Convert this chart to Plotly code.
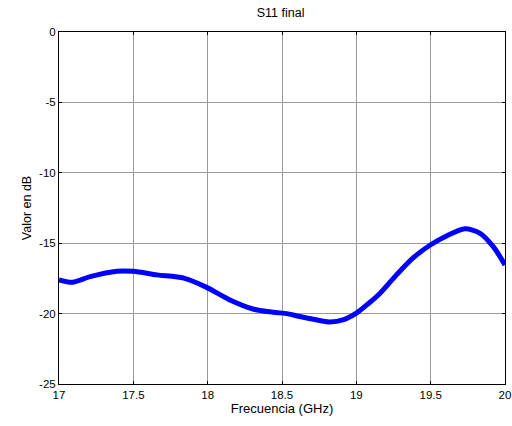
import plotly.graph_objects as go

freq = [17.0, 17.09, 17.21, 17.39, 17.5, 17.66, 17.84, 17.99, 18.15, 18.31, 18.44, 18.54,
        18.62, 18.72, 18.82, 18.91, 19.0, 19.08, 19.16, 19.27, 19.38, 19.5, 19.61, 19.73,
        19.83, 19.92, 20.0]
s11 = [-17.6, -17.77, -17.37, -16.99, -17.0, -17.25, -17.48, -18.12, -19.03, -19.69, -19.9, -20.02,
       -20.21, -20.42, -20.59, -20.45, -19.97, -19.3, -18.55, -17.25, -16.06, -15.11, -14.47, -13.98,
       -14.28, -15.23, -16.54]

x_ticks = [17, 17.5, 18, 18.5, 19, 19.5, 20]
x_ticklabels = ["17", "17.5", "18", "18.5", "19", "19.5", "20"]
y_ticks = [0, -5, -10, -15, -20, -25]
y_ticklabels = ["0", "-5", "-10", "-15", "-20", "-25"]

FAM = "Liberation Sans, Arial, sans-serif"

fig = go.Figure()
fig.add_trace(go.Scatter(x=freq, y=s11, mode="lines",
                         line=dict(color="#0000ff", width=5, shape="spline", smoothing=0.8),
                         showlegend=False, cliponaxis=True))

font = dict(family=FAM, size=11.5, color="#000000")
axis_common = dict(showline=True, linecolor="#000000", linewidth=1, mirror="ticks",
                   ticks="inside", ticklen=3, tickcolor="#000000",
                   showgrid=True, gridcolor="#9a9a9a", gridwidth=1, zeroline=False,
                   tickfont=font, automargin=False)

fig.update_layout(
    width=512, height=426,
    margin=dict(l=59, r=7, t=32, b=42),
    font=dict(family=FAM, color="#000000"),
    paper_bgcolor="#ffffff", plot_bgcolor="#ffffff",
    title=dict(text="S11 final", x=0.548, xanchor="center", y=0.97, yanchor="middle",
               font=dict(family=FAM, size=12.5, color="#000000")),
    xaxis=dict(range=[17, 20], tickvals=x_ticks, ticktext=x_ticklabels,
               title=dict(text="Frecuencia (GHz)", standoff=2,
                          font=dict(family=FAM, size=13, color="#000000")),
               **axis_common),
    yaxis=dict(range=[-25, 0], tickvals=y_ticks, ticktext=y_ticklabels,
               title=dict(text="Valor en dB", standoff=4,
                          font=dict(family=FAM, size=12.5, color="#000000")),
               **axis_common),
)

fig.write_html("out.html")
